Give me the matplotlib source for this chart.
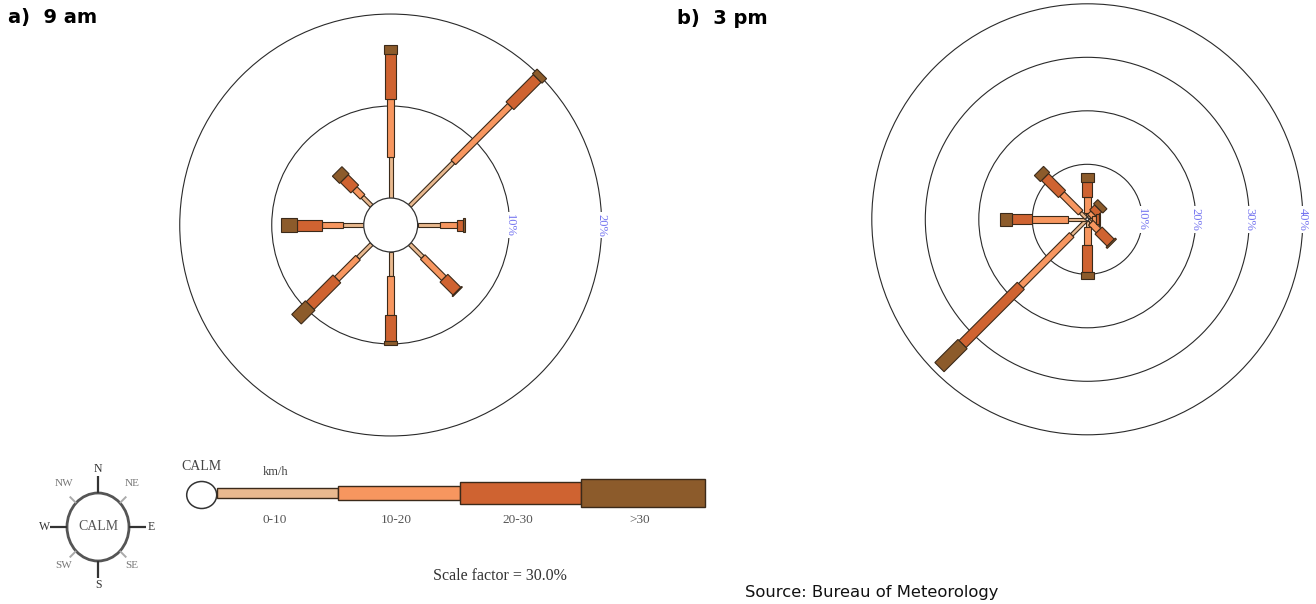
import numpy as np
import matplotlib
matplotlib.use("Agg")
import matplotlib.pyplot as plt
from matplotlib.patches import Polygon, Circle, Ellipse, Rectangle

# ---------------- data ----------------
directions = ['N', 'NE', 'E', 'SE', 'S', 'SW', 'W', 'NW']
bearings = [0, 45, 90, 135, 180, 225, 270, 315]
speed_bins = ['0-10', '10-20', '20-30', '>30']

# 9 am (% of observations per direction and speed class)
am9_calm = 2.93
am9_0_10 = [4.5, 6.7, 2.4, 2.0, 2.6, 2.1, 2.3, 1.4]
am9_10_20 = [6.3, 8.7, 1.85, 3.25, 4.2, 3.25, 2.2, 1.2]
am9_20_30 = [4.85, 4.2, 0.7, 2.0, 2.85, 4.1, 2.75, 1.6]
am9_gt30 = [1.0, 0.7, 0.15, 0.1, 0.45, 2.1, 1.7, 1.1]
am9_rings = [10, 20]

# 3 pm
pm3_calm = 0.28
pm3_0_10 = [0.85, 0.4, 0.6, 0.65, 1.1, 3.85, 3.27, 1.5]
pm3_10_20 = [3.0, 0.9, 0.8, 2.05, 3.4, 13.45, 6.7, 4.9]
pm3_20_30 = [2.9, 1.3, 0.6, 3.2, 5.0, 15.4, 3.75, 4.5]
pm3_gt30 = [1.55, 1.1, 0.1, 0.3, 1.4, 6.1, 2.35, 1.6]
pm3_rings = [10, 20, 30, 40]

scale_factor_text = "Scale factor = 30.0%"

# ---------------- style ----------------
bin_colors = ['#E9B98F', '#F7965F', '#CF6331', '#8C5B2B']
edge_col = '#3B2A1A'
ring_label_col = '#7474F0'
serif = ['Liberation Serif', 'DejaVu Serif']

W, H = 1316, 604
fig = plt.figure(figsize=(W / 100, H / 100), dpi=100)


def ax_px(left, top, w, h):
    return fig.add_axes([left / W, 1 - (top + h) / H, w / W, h / H])


# overlay axes in pixel coordinates for titles / legend
ov = ax_px(0, 0, W, H)
ov.set_xlim(0, W)
ov.set_ylim(H, 0)
ov.axis('off')


def draw_rose(cx, cy, px_per_pct, calm, bins, rings, widths_px):
    half = 224
    ax = ax_px(cx - half, cy - half, 2 * half, 2 * half)
    lim = half / px_per_pct
    ax.set_xlim(-lim, lim)
    ax.set_ylim(-lim, lim)
    ax.set_aspect('equal')
    ax.axis('off')
    for p in rings:
        r = calm + p
        ax.add_patch(Circle((0, 0), r, fill=False, ec='#2a2a2a', lw=0.8, zorder=1))
        ax.text(r, 0, f"{p}%", rotation=-90, ha='center', va='center',
                fontsize=9, family=serif, color=ring_label_col, zorder=2,
                bbox=dict(boxstyle='square,pad=0.15', fc='white', ec='none'))
    vals = np.array(bins)  # shape (4, 8)
    for j, b in enumerate(bearings):
        th = np.deg2rad(b)
        u = np.array([np.sin(th), np.cos(th)])
        perp = np.array([-u[1], u[0]])
        r0 = calm
        for k in range(vals.shape[0]):
            r1 = r0 + vals[k, j]
            w = widths_px[k] / px_per_pct / 2
            pts = [u * r0 + perp * w, u * r1 + perp * w,
                   u * r1 - perp * w, u * r0 - perp * w]
            ax.add_patch(Polygon(pts, closed=True, fc=bin_colors[k], ec=edge_col,
                                 lw=0.8, zorder=3 + k))
            r0 = r1
    ax.add_patch(Circle((0, 0), calm, fc='white', ec='#333333', lw=0.9, zorder=10))
    return ax


draw_rose(390.7, 225, 9.2, am9_calm,
          [am9_0_10, am9_10_20, am9_20_30, am9_gt30], am9_rings,
          [4, 6.5, 11, 13.5])
draw_rose(1087.3, 219.3, 5.35, pm3_calm,
          [pm3_0_10, pm3_10_20, pm3_20_30, pm3_gt30], pm3_rings,
          [3.5, 6.5, 10, 13])

# ---------------- titles ----------------
ov.text(8, 18, "a)  9 am", fontsize=14, fontweight='bold', family='DejaVu Sans',
        ha='left', va='center', color='black')
ov.text(677, 18, "b)  3 pm", fontsize=14, fontweight='bold', family='DejaVu Sans',
        ha='left', va='center', color='black')
ov.text(745, 593, "Source: Bureau of Meteorology", fontsize=11.8, family='DejaVu Sans',
        ha='left', va='center', color='#111111')

# ---------------- compass key ----------------
ccx, ccy, crx, cry = 98, 527, 31, 34
ov.add_patch(Ellipse((ccx, ccy), 2 * crx, 2 * cry, fill=False, ec='#555555', lw=2))
ov.text(ccx, ccy - 1, "CALM", fontsize=10, family=serif, color='#555555',
        ha='center', va='center')
for d, b in zip(directions, bearings):
    th = np.deg2rad(b)
    sx, sy = np.sin(th), -np.cos(th)
    main = len(d) == 1
    ext = 17 if main else 9
    x0, y0 = ccx + crx * sx, ccy + cry * sy
    x1, y1 = ccx + (crx + ext) * sx, ccy + (cry + ext) * sy
    ov.plot([x0, x1], [y0, y1], color='#333333' if main else '#aaaaaa',
            lw=1.6 if main else 1.4, solid_capstyle='butt')
    if main:
        lx, ly = ccx + (crx + 22) * sx, ccy + (cry + 24) * sy
    else:
        lx = ccx + 34 * np.sign(sx)
        ly = ccy + (-44 if sy < 0 else 38)
    ov.text(lx, ly, d, fontsize=8 if not main else 8.5, family=serif,
            color='#333333' if main else '#777777', ha='center', va='center')

# ---------------- speed key ----------------
ov.add_patch(Ellipse((201.7, 495), 30, 27, fill=False, ec='#333333', lw=1.1))
ov.text(201.7, 467, "CALM", fontsize=10, family=serif, color='#444444',
        ha='center', va='center')
ov.text(276, 472, "km/h", fontsize=9, family=serif, color='#444444',
        ha='center', va='center')
key_x = [216.7, 338.3, 460, 581, 705]
key_h = [10, 14, 22, 28]
key_cy = 493
for k, lab in enumerate(speed_bins):
    ov.add_patch(Rectangle((key_x[k], key_cy - key_h[k] / 2),
                           key_x[k + 1] - key_x[k], key_h[k],
                           fc=bin_colors[k], ec=edge_col, lw=1.0))
    ov.text((key_x[k] + key_x[k + 1]) / 2 - 3, 520, lab, fontsize=9.5,
            family=serif, color='#555555', ha='center', va='center')
ov.text(500, 576, scale_factor_text, fontsize=11.5, family=serif, color='#333333',
        ha='center', va='center')

fig.savefig("out.png", dpi=100)
